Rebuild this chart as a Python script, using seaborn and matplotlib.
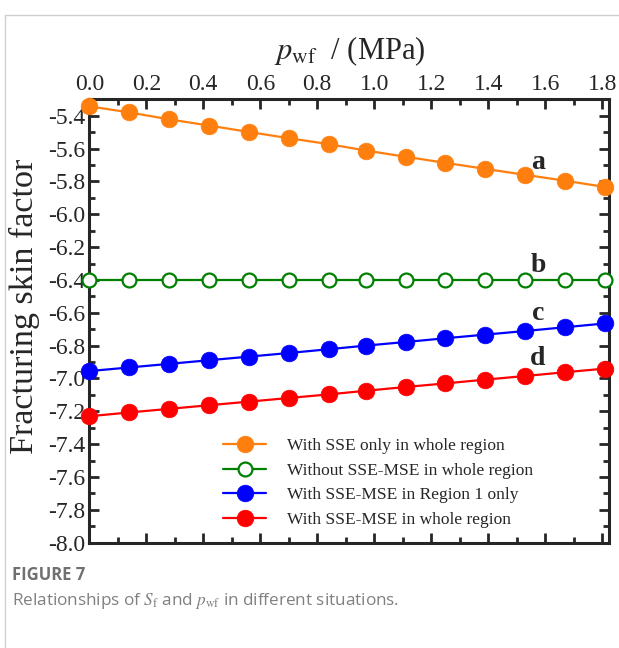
import numpy as np
import pandas as pd
import matplotlib
matplotlib.use("Agg")
import matplotlib.pyplot as plt
from matplotlib.lines import Line2D
from matplotlib.ticker import MultipleLocator
import seaborn as sns

# data
p_wf = [0.00, 0.14, 0.28, 0.42, 0.56, 0.70, 0.84, 0.97, 1.11, 1.25, 1.39, 1.53, 1.67, 1.81]
sf_sse_only = [-5.343, -5.380, -5.422, -5.460, -5.499, -5.537, -5.573, -5.612, -5.650, -5.687,
               -5.724, -5.760, -5.796, -5.834]
sf_without = [-6.40] * 14
sf_region1 = [-6.955, -6.933, -6.911, -6.889, -6.867, -6.845, -6.822, -6.800, -6.778, -6.755,
              -6.733, -6.711, -6.688, -6.665]
sf_whole = [-7.230, -7.207, -7.185, -7.163, -7.141, -7.119, -7.097, -7.075, -7.052, -7.030,
            -7.007, -6.985, -6.962, -6.940]

labels = ["With SSE only in whole region", "Without SSE-MSE in whole region",
          "With SSE-MSE in Region 1 only", "With SSE-MSE in whole region"]
colors = ["#ff7f0e", "#008000", "#0000ff", "#ff0000"]
letters = ["a", "b", "c", "d"]
letter_pos = [(1.575, -5.685), (1.575, -6.315), (1.575, -6.605), (1.575, -6.88)]
xticks = [0.0, 0.2, 0.4, 0.6, 0.8, 1.0, 1.2, 1.4, 1.6, 1.8]

sns.set_style("ticks")
plt.rcParams["font.family"] = ["Liberation Serif", "DejaVu Serif"]
plt.rcParams["mathtext.fontset"] = "stix"
plt.rcParams["axes.unicode_minus"] = False

fig = plt.figure(figsize=(6.19, 6.48), dpi=100)
ax = fig.add_axes([0.1443, 0.1625, 0.84, 0.6843])

series = [sf_sse_only, sf_without, sf_region1, sf_whole]
for vals, lab, col in zip(series, labels, colors):
    df = pd.DataFrame({"p": p_wf, "s": vals})
    hollow = lab.startswith("Without")
    sns.lineplot(data=df, x="p", y="s", ax=ax, color=col, linewidth=1.6, marker="o",
                 markersize=10 if hollow else 12, markerfacecolor="white" if hollow else col,
                 markeredgecolor=col, markeredgewidth=1.6 if hollow else 0.5,
                 label=lab, clip_on=False, zorder=3)

for t, (x, y) in zip(letters, letter_pos):
    ax.text(x, y, t, fontsize=20, fontweight="bold", ha="center", va="center")

ax.set_xlim(0, 1.825)
ax.set_ylim(-8.0, -5.3)
ax.set_xticks(xticks)
ax.set_xticklabels(["%.1f" % v for v in xticks])
ax.xaxis.set_minor_locator(MultipleLocator(0.1))
ax.yaxis.set_major_locator(MultipleLocator(0.2))
ax.yaxis.set_minor_locator(MultipleLocator(0.1))
ax.xaxis.set_ticks_position("both")
ax.yaxis.set_ticks_position("both")
ax.tick_params(which="both", direction="in", width=2, labeltop=True, labelbottom=False,
               labelsize=17, pad=3)
ax.tick_params(which="major", length=7)
ax.tick_params(which="minor", length=4)
for sp in ax.spines.values():
    sp.set_linewidth(2.2)
    sp.set_visible(True)

ax.set_xlabel(r"$p_{\rm wf}$  / (MPa)", fontsize=22)
ax.xaxis.set_label_position("top")
ax.xaxis.labelpad = 11
ax.set_ylabel("Fracturing skin factor", fontsize=24.6, va="center")
ax.yaxis.set_label_coords(-0.124, 0.532)

ax.legend(loc="upper left", bbox_to_anchor=(0.257, 0.236), frameon=False, fontsize=12.5,
          borderpad=0, borderaxespad=0, handlelength=2.5, handletextpad=1.2,
          labelspacing=0.48)

# caption and page frame
fig.text(0.019, 0.112, "FIGURE 7", family="Open Sans", fontsize=12, fontweight="bold",
         color="#707070", va="center")
fig.text(0.019, 0.073, r"Relationships of $S_{\rm f}$ and $p_{\rm wf}$ in different situations.",
         family="Open Sans", fontsize=12.3, color="#808080", va="center")
fig.add_artist(Line2D([0.008, 0.008], [0, 0.977], transform=fig.transFigure, color="#d0d0d0", lw=1))
fig.add_artist(Line2D([0.008, 1], [0.977, 0.977], transform=fig.transFigure, color="#d0d0d0", lw=1))

fig.savefig("out.png", dpi=100)
